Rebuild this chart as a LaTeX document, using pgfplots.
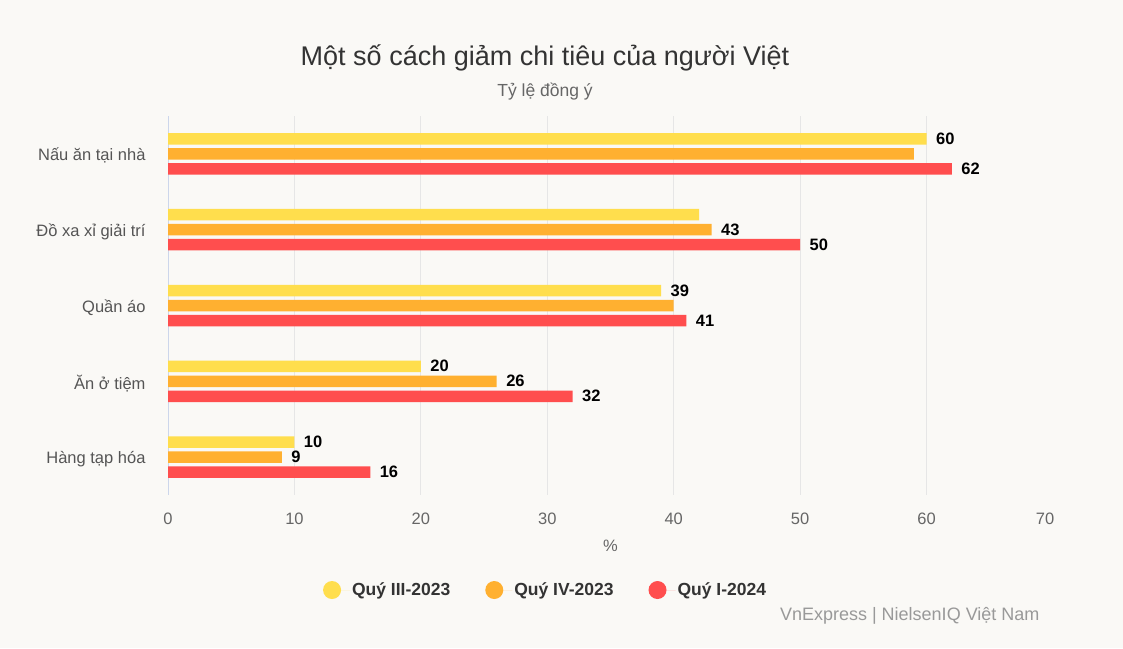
\documentclass[border=0pt]{standalone}
\usepackage{fontspec}
\setmainfont{Liberation Sans}
\usepackage{pgfplots}
\usepackage{pgfplotstable}
\pgfplotsset{compat=1.18}

\definecolor{bg}{RGB}{250,249,246}
\definecolor{cthree}{RGB}{255,222,77}
\definecolor{cfour}{RGB}{255,176,48}
\definecolor{cone}{RGB}{255,78,78}
\definecolor{titlec}{RGB}{51,51,51}
\definecolor{subc}{RGB}{102,102,102}
\definecolor{catc}{RGB}{85,85,85}
\definecolor{srcc}{RGB}{153,153,153}
\definecolor{gridc}{RGB}{230,230,230}
\definecolor{axisc}{RGB}{204,214,235}

% y = category index (0 = top), l* = shown labels
\pgfplotstableread{
y q3 l3 q4 l4 q1 l1
0 60 60 59 {} 62 62
1 42 {} 43 43 50 50
2 39 39 40 {} 41 41
3 20 20 26 26 32 32
4 10 10 9  9  16 16
}\spending

\begin{document}
\begin{tikzpicture}[x=1pt,y=1pt]
\fill[bg] (0,0) rectangle (1123,648);
\node[font=\fontsize{27}{32}\selectfont, text=titlec] at (545,590) {Một số cách giảm chi tiêu của người Việt};
\node[font=\fontsize{17.5}{21}\selectfont, text=subc] at (545,556) {Tỷ lệ đồng ý};
\node[anchor=east, font=\fontsize{18}{21}\selectfont, text=srcc] at (1043,32) {VnExpress | NielsenIQ Việt Nam};

\begin{axis}[
  at={(168pt,153pt)}, anchor=south west,
  scale only axis, width=885pt, height=379pt,
  xbar, bar width=11.5pt,
  xmin=0, xmax=70, ymin=-0.5, ymax=4.5, y dir=reverse,
  xtick={0,10,...,60},
  extra x ticks={70},
  extra x tick style={grid=none, xticklabel style={xshift=-8pt}},
  xmajorgrids,
  major grid style={draw=gridc, line width=1pt},
  ytick={0,...,4},
  yticklabels={Nấu ăn tại nhà, Đồ xa xỉ giải trí, Quần áo, Ăn ở tiệm, Hàng tạp hóa},
  major tick length=0pt,
  axis x line=bottom, axis y line=left,
  axis line style={-},
  x axis line style={draw=none},
  y axis line style={draw=axisc, line width=1pt},
  xticklabel style={font=\fontsize{16.5}{20}\selectfont, text=subc, yshift=-14pt},
  yticklabel style={font=\fontsize{16.5}{20}\selectfont, text=catc, xshift=-19pt, yshift=-2pt},
  /pgf/number format/assume math mode=true,
  xlabel={\%},
  xlabel style={font=\fontsize{16.5}{20}\selectfont, text=subc, yshift=-9pt},
  nodes near coords,
  point meta=explicit symbolic,
  nodes near coords style={font=\bfseries\fontsize{16.5}{19}\selectfont, text=black, anchor=west, xshift=6pt},
  legend columns=3,
  legend style={at={(0.4266,-0.2507)}, anchor=center, draw=none, fill=none,
    font=\bfseries\fontsize{17.5}{21}\selectfont, text=titlec,
    /tikz/every even column/.append style={column sep=33pt}},
  legend image code/.code={\fill[#1] (9pt,0pt) circle (9pt); \path (0pt,0pt) -- (27pt,0pt);},
]
\addplot[fill=cthree, draw=none, bar shift=15pt] table[x=q3, y=y, meta=l3] {\spending};
\addplot[fill=cfour, draw=none, bar shift=0pt] table[x=q4, y=y, meta=l4] {\spending};
\addplot[fill=cone, draw=none, bar shift=-15pt] table[x=q1, y=y, meta=l1] {\spending};
\legend{Quý III-2023, Quý IV-2023, Quý I-2024}
\end{axis}
\end{tikzpicture}
\end{document}
